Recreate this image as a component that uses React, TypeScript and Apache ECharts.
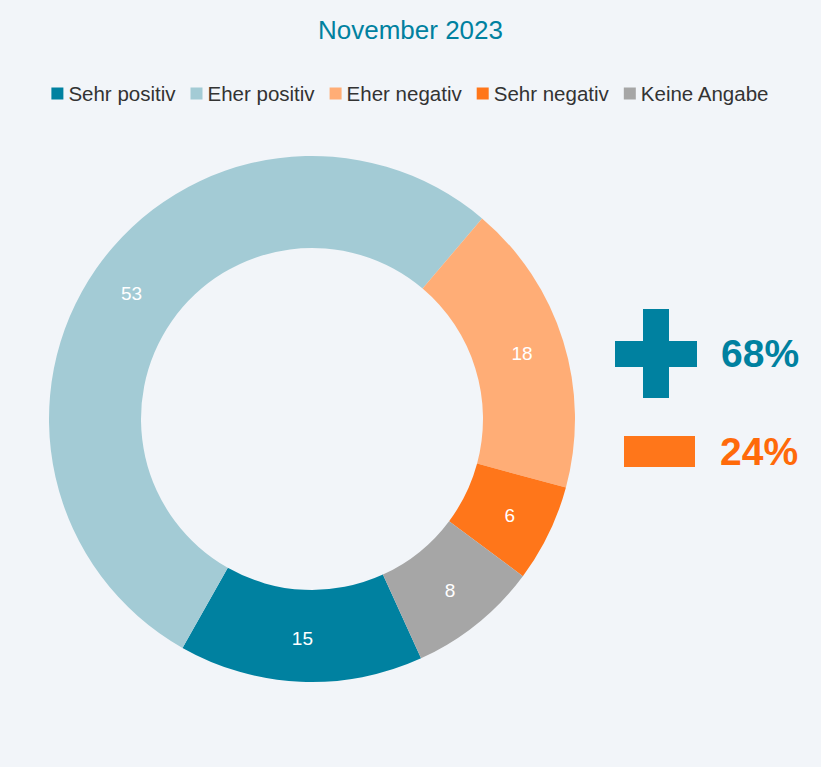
import React, { useEffect, useRef } from "react";
import * as echarts from "echarts";

const categories = ["Sehr positiv", "Eher positiv", "Eher negativ", "Sehr negativ", "Keine Angabe"];
const values = [15, 53, 18, 6, 8];
const colors = ["#0081A0", "#A3CBD5", "#FFAD76", "#FF761A", "#A6A6A6"];
const summaryLabels = ["68%", "24%"];
const titleText = "November 2023";

export default function App() {
  const ref = useRef<HTMLDivElement>(null);
  useEffect(() => {
    document.body.style.margin = "0";
    const chart = echarts.init(ref.current!, null, { renderer: "svg" });
    const font = "'Liberation Sans', Arial, sans-serif";
    chart.setOption({
      animation: false,
      backgroundColor: "#F2F5F9",
      textStyle: { fontFamily: font },
      title: {
        text: titleText,
        left: "center",
        top: 12,
        textStyle: { color: "#0081A0", fontSize: 26, fontWeight: "normal", fontFamily: font },
      },
      legend: {
        top: 78,
        left: "center",
        icon: "rect",
        itemWidth: 12,
        itemHeight: 12,
        itemGap: 15,
        textStyle: { color: "#333333", fontSize: 20.5, fontFamily: font },
        data: categories,
      },
      series: [
        {
          type: "pie",
          center: [312, 419],
          radius: [171, 263],
          startAngle: -65.5,
          clockwise: true,
          avoidLabelOverlap: false,
          label: {
            show: true,
            position: "inside",
            formatter: "{c}",
            color: "#ffffff",
            fontSize: 19,
            fontFamily: font,
          },
          labelLine: { show: false },
          emphasis: { disabled: true },
          data: categories.map((name, i) => ({
            name,
            value: values[i],
            itemStyle: { color: colors[i] },
          })),
        },
      ],
      graphic: [
        { type: "rect", shape: { x: 643, y: 309, width: 26, height: 89 }, style: { fill: "#0081A0" } },
        { type: "rect", shape: { x: 615, y: 341, width: 82, height: 26 }, style: { fill: "#0081A0" } },
        { type: "rect", shape: { x: 624, y: 436, width: 71, height: 31 }, style: { fill: "#FF761A" } },
        {
          type: "text",
          x: 721,
          y: 353,
          style: {
            text: summaryLabels[0],
            fill: "#0081A0",
            font: `bold 39px ${font}`,
            verticalAlign: "middle",
          },
        },
        {
          type: "text",
          x: 720,
          y: 451,
          style: {
            text: summaryLabels[1],
            fill: "#FF6A0A",
            font: `bold 39px ${font}`,
            verticalAlign: "middle",
          },
        },
      ],
    });
    return () => chart.dispose();
  }, []);
  return <div ref={ref} style={{ width: 821, height: 767 }} />;
}
